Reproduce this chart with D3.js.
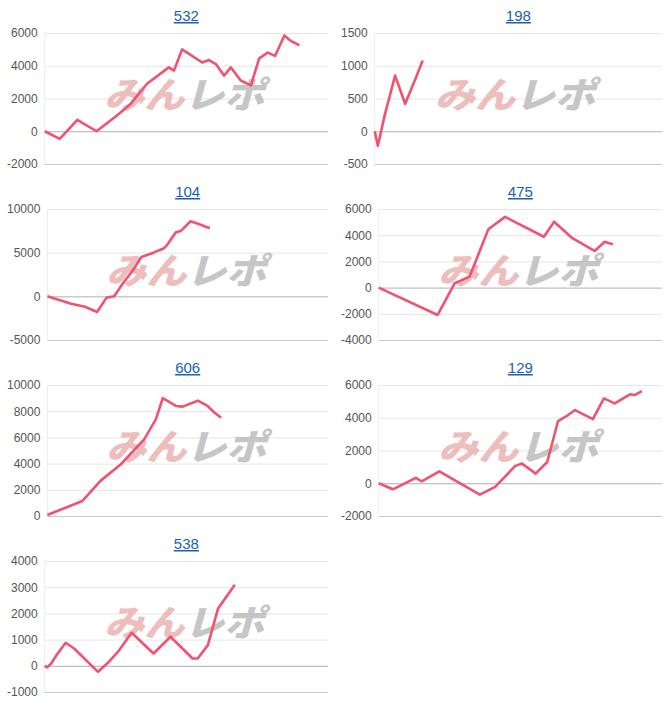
<!DOCTYPE html>
<html><head><meta charset="utf-8">
<script src="https://cdn.jsdelivr.net/npm/d3@7"></script>
<style>body{margin:0;background:#fff;font-family:Arial,"Liberation Sans",sans-serif}</style>
</head><body><svg id="c" width="668" height="704"></svg>
<script>
const titles = ["532","198","104","475","606","129","538"];
const yDomains = [[-2000,6000],[-500,1500],[-5000,10000],[-4000,6000],[0,10000],[-2000,6000],[-1000,4000]];
const yTicks = [
  [-2000,0,2000,4000,6000],
  [-500,0,500,1000,1500],
  [-5000,0,5000,10000],
  [-4000,-2000,0,2000,4000,6000],
  [0,2000,4000,6000,8000,10000],
  [-2000,0,2000,4000,6000],
  [-1000,0,1000,2000,3000,4000]
];
const s532x = [0,5.3,11.5,18.3,25.4,30.2,36.1,43.8,45.6,48.5,55.6,58,60.4,63.3,65.7,69.2,72.8,75.7,78.7,81.3,84.6,87,89.9];
const s532y = [0,-470,700,0,950,1650,2900,3900,3700,5000,4200,4350,4100,3400,3900,3100,2800,4450,4800,4600,5850,5500,5250];
const s198x = [0,1.1,3.5,7.1,10.6,14.2,16.7];
const s198y = [0,-220,250,850,420,800,1080];
const s104x = [0,8.5,13.4,17.7,21.1,23.8,26.8,30.5,33.5,37.8,41.5,42.7,45.7,47.6,51,53.7,57.9];
const s104y = [0,-850,-1200,-1800,-150,0,1450,3000,4500,5000,5500,5900,7300,7500,8600,8300,7800];
const s475x = [0,20.8,26.8,32.1,38.7,44.6,58.3,61.9,68.5,76.2,79.8,82.7];
const s475y = [0,-2090,330,840,4450,5400,3880,5030,3750,2800,3500,3300];
const s606x = [0,12.5,19,26.2,34.5,38.7,41.1,45.8,48.2,53.6,57.1,59.5,61.9];
const s606y = [80,1150,2700,3950,5850,7400,9000,8400,8350,8800,8400,7900,7500];
const s129x = [0,5,13.1,15.2,21.4,35.7,41.1,48.2,50.6,55.4,59.5,63.3,66.1,69.3,75.6,79.5,83.3,88.7,90.5,92.9];
const s129y = [0,-370,330,120,730,-700,-220,1060,1200,590,1300,3800,4080,4470,3920,5180,4880,5430,5390,5630];
const s538x = [0,0.8,2.3,4.2,7.4,10.4,18.8,22.3,25.9,30.7,38.4,44.4,52.2,54,57.6,61.2,67.1];
const s538y = [0,-60,90,410,880,660,-230,115,540,1260,470,1110,280,280,790,2190,3090];
const seriesX = [s532x,s198x,s104x,s475x,s606x,s129x,s538x];
const seriesY = [s532y,s198y,s104y,s475y,s606y,s129y,s538y];

const svg = d3.select("#c");
const paneW = 334, paneH = 176;
titles.forEach((t,i)=>{
  const col = i%2, row = Math.floor(i/2);
  const g = svg.append("g").attr("transform",`translate(${col*paneW},${row*paneH})`);
  const tmp = g.append("text").style("font-size","12px");
  let mw = 0;
  yTicks[i].forEach(v=>{tmp.text(String(v)); mw=Math.max(mw,tmp.node().getComputedTextLength());});
  tmp.remove();
  const left = mw + 14, right = paneW-6, top = 33, bottom = 164;
  const x = d3.scaleLinear().domain([0,100]).range([left,right]);
  const y = d3.scaleLinear().domain(yDomains[i]).range([bottom,top]);
  g.append("text").attr("x",(left+right)/2).attr("y",21).attr("text-anchor","middle")
    .style("font-size","15px").style("fill","#1a5fb4").style("text-decoration","underline").text(t);
  const ax = g.append("g").attr("transform",`translate(${left},0)`)
    .call(d3.axisLeft(y).tickValues(yTicks[i]).tickSize(-(right-left)).tickPadding(7).tickFormat(d=>String(d)));
  ax.select(".domain").remove();
  ax.selectAll(".tick line").attr("stroke",d=>d===0?"#b0b0b0":"#e6e6e6");
  ax.selectAll(".tick line").filter(d=>d===yDomains[i][0]).attr("stroke","#c8c8c8");
  ax.selectAll(".tick text").style("font-size","12px").style("fill","#555").style("font-family","Arial,'Liberation Sans',sans-serif");
  g.append("line").attr("x1",left).attr("x2",left).attr("y1",top).attr("y2",bottom).attr("stroke","#ececec");
  const wm = g.append("text").attr("x",left+(right-left)*0.21).attr("y",top+75)
    .attr("textLength",160).attr("lengthAdjust","spacingAndGlyphs")
    .style("font-size","36px").style("font-weight","900").style("font-style","italic")
    .style("font-family","'Noto Sans CJK JP',sans-serif");
  wm.append("tspan").attr("fill","#e9a7a7").attr("opacity",0.75).text("みん");
  wm.append("tspan").attr("fill","#b8b8b8").attr("opacity",0.8).text("レポ");
  const pts = seriesX[i].map((v,k)=>[v,seriesY[i][k]]);
  g.append("path").datum(pts).attr("fill","none").attr("stroke","#ef5370").attr("stroke-width",2.6)
    .attr("stroke-linejoin","round").attr("d",d3.line().x(d=>x(d[0])).y(d=>y(d[1])));
});
</script></body></html>
